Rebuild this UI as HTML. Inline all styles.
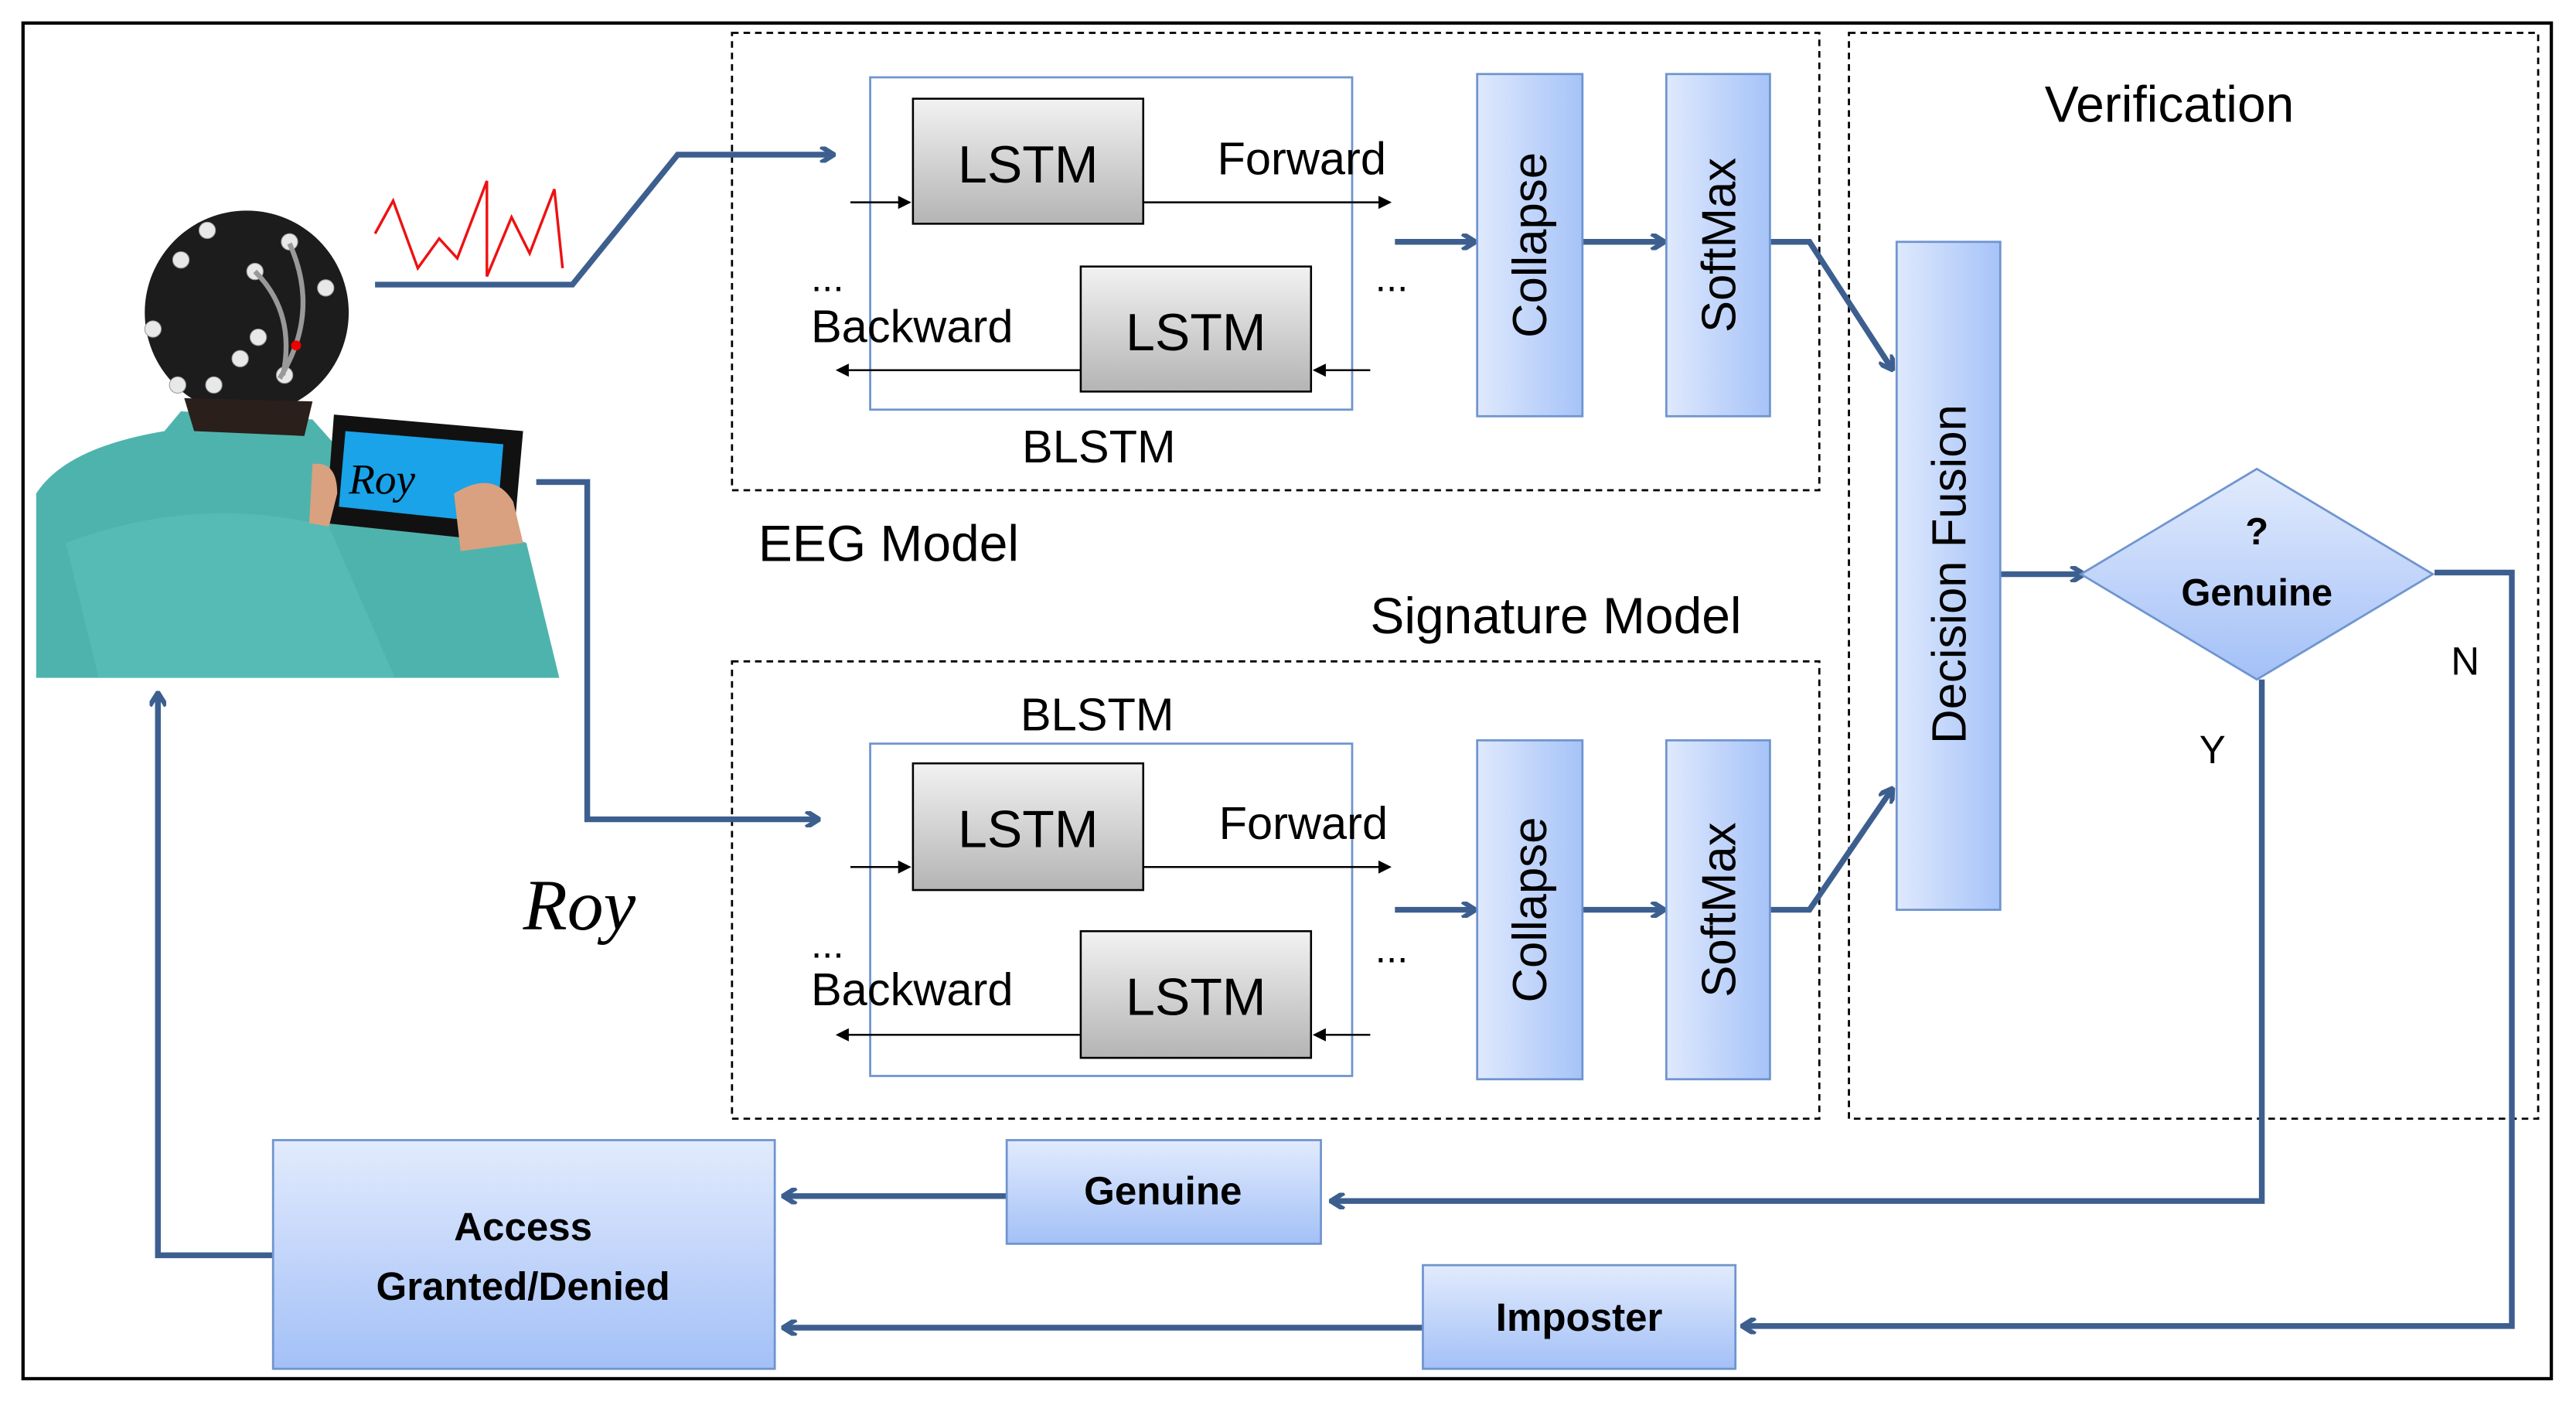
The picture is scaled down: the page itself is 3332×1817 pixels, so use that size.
<!DOCTYPE html>
<html><head><meta charset="utf-8"><style>html,body{margin:0;padding:0;background:#fff}svg{display:block}</style></head>
<body>
<svg width="3332" height="1817" viewBox="0 0 1566 854" preserveAspectRatio="none" xmlns="http://www.w3.org/2000/svg" font-family="'Liberation Sans', sans-serif">
<defs>
<linearGradient id="gray" x1="0" y1="0" x2="0" y2="1"><stop offset="0" stop-color="#f2f2f2"/><stop offset="1" stop-color="#b4b4b4"/></linearGradient>
<linearGradient id="blueH" x1="0" y1="0" x2="1" y2="0"><stop offset="0" stop-color="#dfe9fd"/><stop offset="1" stop-color="#a6c3f8"/></linearGradient>
<linearGradient id="blueV" x1="0" y1="0" x2="0" y2="1"><stop offset="0" stop-color="#e2ebfd"/><stop offset="1" stop-color="#a3c0f7"/></linearGradient>
<marker id="a" markerWidth="10" markerHeight="10" refX="8" refY="5" orient="auto" markerUnits="userSpaceOnUse"><path d="M1,0 L9,5 L1,10" fill="none" stroke="#3d5f8f" stroke-width="3"/></marker>
<marker id="k" markerWidth="8" markerHeight="8" refX="7" refY="4" orient="auto" markerUnits="userSpaceOnUse"><path d="M0,0 L8,4 L0,8 z" fill="#000"/></marker>
</defs>
<rect x="14" y="14" width="1537" height="824" fill="#fff" stroke="#000" stroke-width="2"/>
<g fill="none" stroke="#000" stroke-width="1.3" stroke-dasharray="4,3">
<rect x="445" y="20" width="661" height="278"/>
<rect x="445" y="402" width="661" height="278"/>
<rect x="1124" y="20" width="419" height="660"/>
</g>
<!-- person -->
<path d="M22,412 L22,300 Q40,272 100,262 L110,250 L190,255 L230,300 L320,330 L340,412 Z" fill="#4fb3ad"/>
<path d="M40,330 Q120,300 200,320 L240,412 L60,412 Z" fill="#5cc0bb" opacity="0.6"/>
<ellipse cx="150" cy="190" rx="62" ry="62" fill="#1c1c1c"/>
<path d="M112,242 L190,244 L185,265 L118,262 Z" fill="#2a1f1a"/>
<g fill="#e8e8e8" stroke="#999" stroke-width="0.5"><circle cx="126" cy="140" r="5"/><circle cx="110" cy="158" r="5"/><circle cx="155" cy="165" r="5"/><circle cx="176" cy="147" r="5"/><circle cx="198" cy="175" r="5"/><circle cx="157" cy="205" r="5"/><circle cx="146" cy="218" r="5"/><circle cx="93" cy="200" r="5"/><circle cx="108" cy="234" r="5"/><circle cx="130" cy="234" r="5"/><circle cx="173" cy="228" r="5"/></g>
<path d="M176,148 Q195,190 170,230 M155,165 Q180,190 172,228" stroke="#999" stroke-width="3" fill="none"/>
<circle cx="180" cy="210" r="3" fill="#e00"/>
<path d="M203,252 L318,262 L312,330 L198,318 Z" fill="#111"/>
<path d="M210,262 L306,270 L302,318 L206,308 Z" fill="#1aa3e8"/>
<text x="212" y="300" font-family="'Liberation Serif',serif" font-style="italic" font-size="26" fill="#000">Roy</text>
<path d="M276,300 Q300,285 312,305 L318,330 L280,335 Z" fill="#d9a17f"/>
<path d="M190,282 Q205,280 205,300 L200,320 L188,318 Z" fill="#d9a17f"/>
<!-- signature -->
<text x="318" y="565" font-family="'Liberation Serif',serif" font-style="italic" font-size="44" fill="#000">Roy</text>
<!-- wave -->
<polyline points="228,142 239,122 254,163 267,145 278,157 296,110 296,168 311,132 322,154 337,115 342,163" fill="none" stroke="#e11" stroke-width="1.6"/>
<!-- blue connectors -->
<g fill="none" stroke="#3d5f8f" stroke-width="3.5">
<polyline points="228,173 348,173 412,94 506,94" marker-end="url(#a)"/>
<polyline points="326,293 357,293 357,498 497,498" marker-end="url(#a)"/>
<line x1="848" y1="147" x2="896" y2="147" marker-end="url(#a)"/>
<line x1="962" y1="147" x2="1011" y2="147" marker-end="url(#a)"/>
<polyline points="1076,147 1100,147 1150,224" marker-end="url(#a)"/>
<line x1="848" y1="553" x2="896" y2="553" marker-end="url(#a)"/>
<line x1="962" y1="553" x2="1011" y2="553" marker-end="url(#a)"/>
<polyline points="1076,553 1100,553 1150,480" marker-end="url(#a)"/>
<line x1="1216" y1="349" x2="1266" y2="349" marker-end="url(#a)"/>
<polyline points="1480,348 1527,348 1527,806 1060,806" marker-end="url(#a)"/>
<polyline points="1375,413 1375,730 810,730" marker-end="url(#a)"/>
<line x1="612" y1="727" x2="477" y2="727" marker-end="url(#a)"/>
<line x1="865" y1="807" x2="477" y2="807" marker-end="url(#a)"/>
<polyline points="166,763 96,763 96,422" marker-end="url(#a)"/>
</g>
<!-- BLSTM EEG -->
<g font-size="28">
<rect x="529" y="47" width="293" height="202" fill="none" stroke="#6f95cf" stroke-width="1.3"/>
<g stroke="#000" stroke-width="1.2">
<line x1="517" y1="123" x2="553" y2="123" marker-end="url(#k)"/>
<line x1="695" y1="123" x2="845" y2="123" marker-end="url(#k)"/>
<line x1="657" y1="225" x2="509" y2="225" marker-end="url(#k)"/>
<line x1="833" y1="225" x2="799" y2="225" marker-end="url(#k)"/>
</g>
<rect x="555" y="60" width="140" height="76" fill="url(#gray)" stroke="#000" stroke-width="1.2"/>
<rect x="657" y="162" width="140" height="76" fill="url(#gray)" stroke="#000" stroke-width="1.2"/>
<text x="625" y="111" text-anchor="middle" font-size="32">LSTM</text>
<text x="727" y="213" text-anchor="middle" font-size="32">LSTM</text>
<text x="740" y="106">Forward</text>
<text x="493" y="208">Backward</text>
<text x="493" y="177" font-size="24">...</text>
<text x="836" y="177" font-size="24">...</text>
<text x="668" y="281" text-anchor="middle">BLSTM</text>
</g>
<!-- BLSTM Sig -->
<g font-size="28">
<rect x="529" y="452" width="293" height="202" fill="none" stroke="#6f95cf" stroke-width="1.3"/>
<g stroke="#000" stroke-width="1.2">
<line x1="517" y1="527" x2="553" y2="527" marker-end="url(#k)"/>
<line x1="695" y1="527" x2="845" y2="527" marker-end="url(#k)"/>
<line x1="657" y1="629" x2="509" y2="629" marker-end="url(#k)"/>
<line x1="833" y1="629" x2="799" y2="629" marker-end="url(#k)"/>
</g>
<rect x="555" y="464" width="140" height="77" fill="url(#gray)" stroke="#000" stroke-width="1.2"/>
<rect x="657" y="566" width="140" height="77" fill="url(#gray)" stroke="#000" stroke-width="1.2"/>
<text x="625" y="515" text-anchor="middle" font-size="32">LSTM</text>
<text x="727" y="617" text-anchor="middle" font-size="32">LSTM</text>
<text x="741" y="510">Forward</text>
<text x="493" y="611">Backward</text>
<text x="493" y="582" font-size="24">...</text>
<text x="836" y="585" font-size="24">...</text>
<text x="667" y="444" text-anchor="middle">BLSTM</text>
</g>
<!-- Collapse/SoftMax -->
<g stroke="#6f95cf" stroke-width="1.3" fill="url(#blueH)">
<rect x="898" y="45" width="64" height="208"/><rect x="1013" y="45" width="63" height="208"/>
<rect x="898" y="450" width="64" height="206"/><rect x="1013" y="450" width="63" height="206"/>
<rect x="1153" y="147" width="63" height="406"/>
</g>
<g font-size="29" text-anchor="middle">
<text transform="translate(940,149) rotate(-90)">Collapse</text>
<text transform="translate(1055,149) rotate(-90)">SoftMax</text>
<text transform="translate(940,553) rotate(-90)">Collapse</text>
<text transform="translate(1055,553) rotate(-90)">SoftMax</text>
<text transform="translate(1195,349) rotate(-90)">Decision Fusion</text>
</g>
<g font-size="31">
<text x="1243" y="74">Verification</text>
<text x="461" y="341">EEG Model</text>
<text x="833" y="385">Signature Model</text>
</g>
<polygon points="1372,285 1479,349 1372,413 1265,349" fill="url(#blueV)" stroke="#6f95cf" stroke-width="1.3"/>
<g font-weight="bold" font-size="23" text-anchor="middle">
<text x="1372" y="331">?</text>
<text x="1372" y="368">Genuine</text>
</g>
<text x="1490" y="410" font-size="24">N</text>
<text x="1337" y="464" font-size="24">Y</text>
<g stroke="#6f95cf" stroke-width="1.3" fill="url(#blueV)">
<rect x="612" y="693" width="191" height="63"/>
<rect x="865" y="769" width="190" height="63"/>
<rect x="166" y="693" width="305" height="139"/>
</g>
<g font-weight="bold" font-size="24" text-anchor="middle">
<text x="707" y="732">Genuine</text>
<text x="960" y="809">Imposter</text>
<text x="318" y="754">Access</text>
<text x="318" y="790">Granted/Denied</text>
</g>
</svg>
</body></html>
